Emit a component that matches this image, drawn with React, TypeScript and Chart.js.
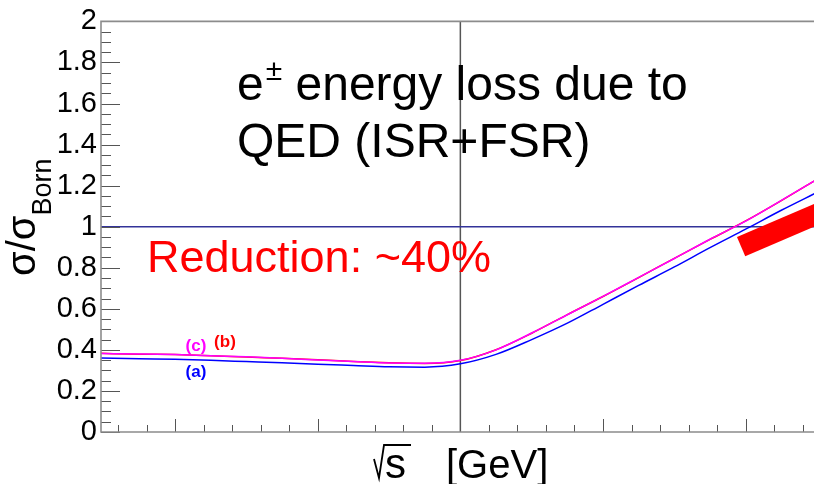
import React, { useEffect, useRef } from "react";
import { Chart, registerables } from "chart.js";

Chart.register(...registerables);

// ---------- data ----------
const X_VALUES = [
  88.48, 88.75, 89.0, 89.25, 89.5, 89.75, 90.0, 90.25, 90.5, 90.75, 91.0,
  91.25, 91.5, 91.75, 92.0, 92.25, 92.5, 92.75, 93.0, 93.25, 93.5,
];
// (a) blue
const SERIES_A = [
  0.361, 0.357, 0.354, 0.349, 0.343, 0.337, 0.33, 0.324, 0.318, 0.316, 0.332,
  0.378, 0.45, 0.53, 0.622, 0.714, 0.804, 0.898, 0.988, 1.08, 1.167,
];
// (b) red
const SERIES_B = [
  0.383, 0.379, 0.377, 0.372, 0.365, 0.359, 0.352, 0.343, 0.337, 0.334, 0.348,
  0.401, 0.481, 0.572, 0.66, 0.752, 0.846, 0.938, 1.028, 1.127, 1.231,
];
// (c) magenta
const SERIES_C = [
  0.382, 0.38, 0.377, 0.371, 0.366, 0.359, 0.351, 0.343, 0.336, 0.335, 0.349,
  0.4, 0.482, 0.571, 0.661, 0.753, 0.845, 0.939, 1.027, 1.128, 1.23,
];
// thick red band (measurement)
const BAND_X = [92.968, 93.6];
const BAND_Y = [0.903, 1.091];

const X_MIN = 88.481;
const X_MAX = 93.479;
const Y_MIN = 0;
const Y_MAX = 2;
const Y_STEP = 0.2;
const Y_MINOR = 0.05;
const X_MAJOR = 1;
const X_MINOR = 0.2;
const REF_X = 91.0;
const REF_Y = 1.0;

const TITLE_LINE_2 = "QED (ISR+FSR)";
const ANNOTATION = "Reduction: ~40%";
const CURVE_LABELS = [
  { text: "(c)", x: 89.147, y: 0.416, color: "#ff00ff" },
  { text: "(b)", x: 89.35, y: 0.436, color: "#ff0000" },
  { text: "(a)", x: 89.147, y: 0.29, color: "#0000ff" },
];

const FONT = '"Liberation Sans", Arial, Helvetica, sans-serif';

const overlay = {
  id: "overlay",
  beforeDatasetsDraw(chart: any) {
    const { ctx, chartArea: a, scales } = chart;
    const xs = scales.x;
    const ys = scales.y;
    ctx.save();
    const px = xs.getPixelForValue(REF_X);
    ctx.strokeStyle = "#555555";
    ctx.lineWidth = 1.5;
    ctx.beginPath();
    ctx.moveTo(px, a.top);
    ctx.lineTo(px, a.bottom);
    ctx.stroke();
    const py = ys.getPixelForValue(REF_Y);
    ctx.strokeStyle = "#333399";
    ctx.beginPath();
    ctx.moveTo(a.left, py);
    ctx.lineTo(a.right, py);
    ctx.stroke();
    ctx.restore();
  },
  afterDraw(chart: any) {
    const { ctx, chartArea: a, scales } = chart;
    const xs = scales.x;
    const ys = scales.y;
    ctx.save();

    // ticks (inside)
    ctx.strokeStyle = "#555555";
    ctx.lineWidth = 1;
    ctx.beginPath();
    for (let v = Y_MIN; v <= Y_MAX + 1e-9; v += Y_MINOR) {
      const p = Math.round(ys.getPixelForValue(v)) + 0.5;
      const major = Math.abs(v / Y_STEP - Math.round(v / Y_STEP)) < 1e-6;
      ctx.moveTo(a.left, p);
      ctx.lineTo(a.left + (major ? 19 : 10), p);
    }
    const start = Math.ceil(X_MIN / X_MINOR) * X_MINOR;
    for (let v = start; v <= X_MAX + 1e-9; v += X_MINOR) {
      const p = Math.round(xs.getPixelForValue(v)) + 0.5;
      const major = Math.abs(v / X_MAJOR - Math.round(v / X_MAJOR)) < 1e-6;
      ctx.moveTo(p, a.bottom);
      ctx.lineTo(p, a.bottom - (major ? 13 : 7));
    }
    ctx.stroke();

    // frame
    ctx.strokeStyle = "#8c8c8c";
    ctx.lineWidth = 1.6;
    ctx.beginPath();
    ctx.moveTo(a.right, a.top);
    ctx.lineTo(a.left, a.top);
    ctx.lineTo(a.left, a.bottom);
    ctx.lineTo(a.right, a.bottom);
    ctx.stroke();

    // title
    ctx.fillStyle = "#000000";
    ctx.textBaseline = "alphabetic";
    ctx.textAlign = "left";
    ctx.font = `48px ${FONT}`;
    let tx = 237;
    ctx.fillText("e", tx, 100);
    tx += ctx.measureText("e").width + 2;
    ctx.font = `30px ${FONT}`;
    ctx.fillText("±", tx, 80);
    tx += ctx.measureText("±").width;
    ctx.font = `48px ${FONT}`;
    ctx.fillText(" energy loss due to", tx, 100);
    ctx.fillText(TITLE_LINE_2, 237, 157);

    // annotation
    ctx.fillStyle = "#ff0000";
    ctx.font = `45px ${FONT}`;
    ctx.fillText(ANNOTATION, 147, 272);

    // curve labels
    ctx.font = `bold 17px ${FONT}`;
    ctx.textAlign = "center";
    ctx.textBaseline = "middle";
    for (const l of CURVE_LABELS) {
      ctx.fillStyle = l.color;
      ctx.fillText(l.text, xs.getPixelForValue(l.x), ys.getPixelForValue(l.y));
    }

    // x title: sqrt(s) [GeV]
    ctx.fillStyle = "#000000";
    ctx.textAlign = "left";
    ctx.textBaseline = "alphabetic";
    ctx.font = `42px ${FONT}`;
    ctx.fillText("s", 385, 478);
    ctx.font = `40px ${FONT}`;
    ctx.fillText("[GeV]", 446, 478);
    ctx.strokeStyle = "#000000";
    ctx.lineWidth = 1.8;
    ctx.beginPath();
    ctx.moveTo(374, 459);
    ctx.lineTo(379, 478);
    ctx.lineTo(384, 445);
    ctx.lineTo(411, 445);
    ctx.stroke();

    // y title: sigma/sigma_Born (rotated)
    ctx.translate(35, 276);
    ctx.rotate(-Math.PI / 2);
    ctx.font = `40px ${FONT}`;
    ctx.fillText("σ/σ", 0, 0);
    const w = ctx.measureText("σ/σ").width;
    ctx.font = `27px ${FONT}`;
    ctx.fillText("Born", w, 16);

    ctx.restore();
  },
};

export default function App() {
  const ref = useRef<HTMLCanvasElement | null>(null);
  useEffect(() => {
    if (!ref.current) return;
    const mk = (ys: number[]) => X_VALUES.map((x, i) => ({ x, y: ys[i] }));
    const curve = {
      borderWidth: 1.5,
      pointRadius: 0,
      cubicInterpolationMode: "monotone",
    };
    const chart = new Chart(ref.current, {
      type: "line",
      data: {
        datasets: [
          {
            label: "band",
            data: BAND_X.map((x, i) => ({ x, y: BAND_Y[i] })),
            borderColor: "#ff0000",
            borderWidth: 21,
            borderCapStyle: "butt",
            pointRadius: 0,
            order: 4,
          },
          { label: "(a)", data: mk(SERIES_A), borderColor: "#0000ff", order: 3, ...curve },
          { label: "(b)", data: mk(SERIES_B), borderColor: "#ff0000", order: 2, ...curve },
          { label: "(c)", data: mk(SERIES_C), borderColor: "#ff00ff", order: 1, ...curve },
        ],
      },
      options: {
        animation: false,
        responsive: false,
        devicePixelRatio: 1,
        layout: { padding: { top: 19, right: 0, left: 0, bottom: 0 } },
        plugins: { legend: { display: false }, tooltip: { enabled: false } },
        scales: {
          x: {
            type: "linear",
            min: X_MIN,
            max: X_MAX,
            grid: { display: false, drawTicks: false },
            border: { display: false },
            ticks: { display: false },
            afterFit: (s: any) => {
              s.height = 52;
            },
          },
          y: {
            type: "linear",
            min: Y_MIN,
            max: Y_MAX,
            grid: { display: false, drawTicks: false },
            border: { display: false },
            ticks: {
              stepSize: Y_STEP,
              autoSkip: false,
              padding: 4,
              color: "#000000",
              font: { family: FONT, size: 29 },
              callback: (v: any) => String(Math.round(Number(v) * 10) / 10),
            },
            afterFit: (s: any) => {
              s.width = 101;
            },
          },
        },
      },
      plugins: [overlay],
    } as any);
    return () => chart.destroy();
  }, []);
  return (
    <div style={{ position: "fixed", left: 0, top: 0, width: 814, height: 484, background: "#fff" }}>
      <canvas ref={ref} width={814} height={484} style={{ display: "block" }} />
    </div>
  );
}
